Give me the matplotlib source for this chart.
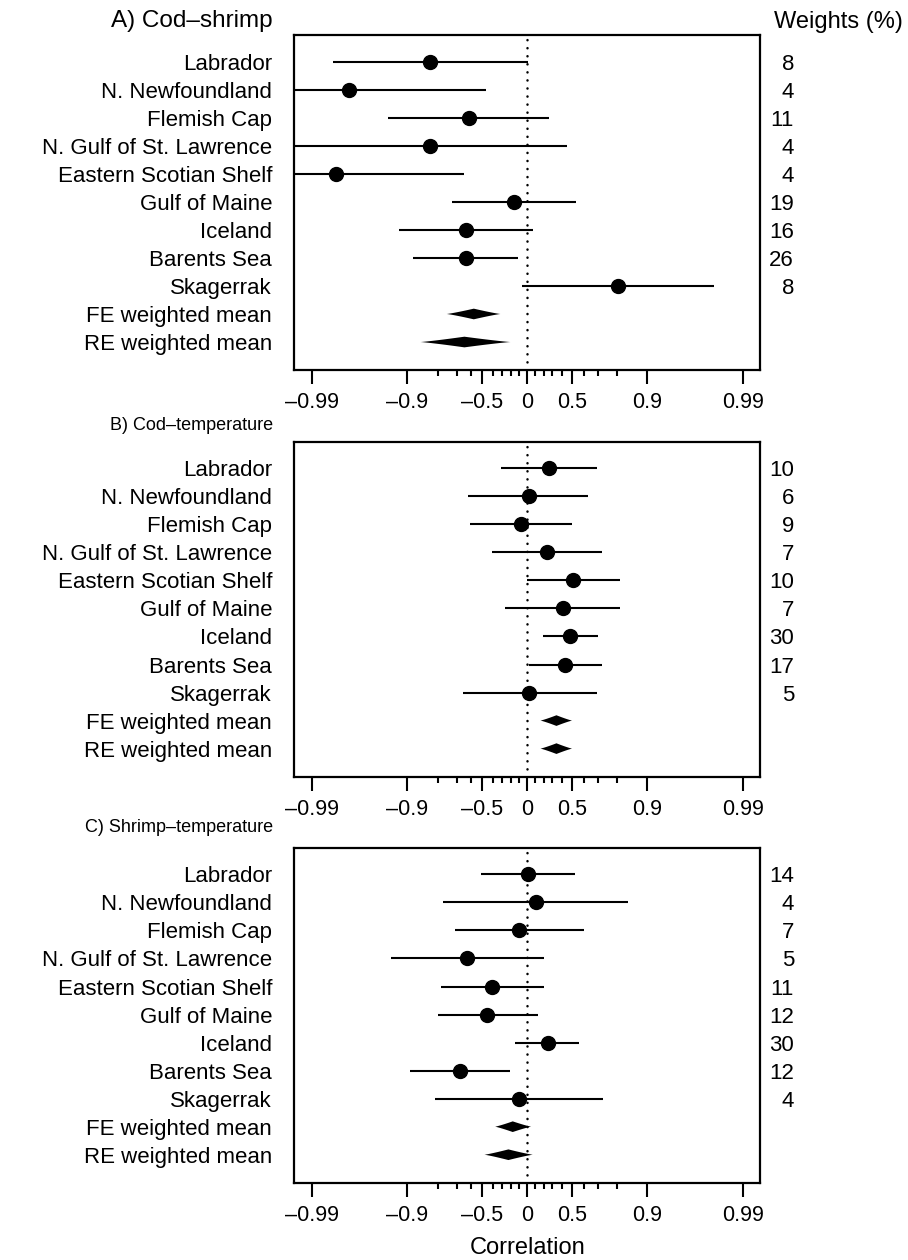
import matplotlib
matplotlib.use('Agg')
import matplotlib.pyplot as plt
import numpy as np

plt.rcParams['font.family'] = ['Liberation Sans', 'DejaVu Sans']
plt.rcParams['lines.scale_dashes'] = False

# study areas, top to bottom
regions = ['Labrador', 'N. Newfoundland', 'Flemish Cap', 'N. Gulf of St. Lawrence',
           'Eastern Scotian Shelf', 'Gulf of Maine', 'Iceland', 'Barents Sea', 'Skagerrak']
pooled = ['FE weighted mean', 'RE weighted mean']

# A) cod-shrimp correlations with 95% CI
cs_r = [-0.831, -0.975, -0.615, -0.831, -0.982, -0.163, -0.635, -0.639, 0.805]
cs_lo = [-0.983, -0.996, -0.936, -0.996, -0.996, -0.726, -0.917, -0.886, -0.061]
cs_hi = [0.016, -0.465, 0.267, 0.451, -0.647, 0.538, 0.069, -0.106, 0.980]
cs_w = [8, 4, 11, 4, 4, 19, 16, 26, 8]
cs_fe = [-0.756, -0.575, -0.317]   # lo, mean, hi
cs_re = [-0.864, -0.647, -0.202]

# B) cod-temperature
ct_r = [0.259, 0.02, -0.074, 0.24, 0.508, 0.415, 0.484, 0.438, 0.02]
ct_lo = [-0.309, -0.617, -0.607, -0.409, -0.005, -0.26, 0.19, 0.02, -0.658]
ct_hi = [0.693, 0.631, 0.499, 0.726, 0.816, 0.816, 0.70, 0.726, 0.693]
ct_w = [10, 6, 9, 7, 10, 7, 30, 17, 5]
ct_fe = [0.162, 0.345, 0.502]
ct_re = [0.162, 0.345, 0.502]

# C) shrimp-temperature
st_r = [0.008, 0.11, -0.094, -0.627, -0.405, -0.455, 0.248, -0.676, -0.094]
st_lo = [-0.511, -0.776, -0.709, -0.932, -0.787, -0.80, -0.143, -0.893, -0.81]
st_hi = [0.532, 0.844, 0.606, 0.209, 0.209, 0.13, 0.566, -0.206, 0.734]
st_w = [14, 4, 7, 5, 11, 12, 30, 12, 4]
st_fe = [-0.374, -0.175, 0.049]
st_re = [-0.481, -0.226, 0.069]

titles = ['A) Cod\u2013shrimp', 'B) Cod\u2013temperature', 'C) Shrimp\u2013temperature']
major_r = [-0.99, -0.9, -0.5, 0, 0.5, 0.9, 0.99]
major_lab = ['\u20130.99', '\u20130.9', '\u20130.5', '0', '0.5', '0.9', '0.99']
minor_r = [-0.8, -0.7, -0.6, -0.4, -0.3, -0.2, -0.1, 0.1, 0.2, 0.3, 0.4, 0.6, 0.7, 0.8]

panels = [
    (cs_r, cs_lo, cs_hi, cs_w, cs_fe, cs_re),
    (ct_r, ct_lo, ct_hi, ct_w, ct_fe, ct_re),
    (st_r, st_lo, st_hi, st_w, st_fe, st_re),
]


def fwd(r):
    return np.arctanh(np.clip(r, -0.99999, 0.99999))


def diamond(ax, yrow, lo, mid, hi, h=0.19):
    t = np.linspace(-1, 1, 81)
    zlo, zmid, zhi = np.arctanh([lo, mid, hi])
    zx = np.where(t < 0, zmid + t * (zmid - zlo), zmid + t * (zhi - zmid))
    prof = h * (1 - np.abs(t)) ** 1.15
    xs = np.tanh(np.concatenate([zx, zx[::-1]]))
    ys = np.concatenate([yrow + prof, (yrow - prof)[::-1]])
    ax.fill(xs, ys, color='k', lw=0)


fig = plt.figure(figsize=(9.08, 12.6), dpi=100)
bottoms = [0.7063, 0.3836, 0.0613]
title_y = [21, 425, 828]
title_size = [17.5, 13, 13]

for k, (r, lo, hi, w, fe, re_) in enumerate(panels):
    ax = fig.add_axes([0.3241, bottoms[k], 0.5129, 0.2659])
    ax.set_xscale('function', functions=(fwd, np.tanh))
    ax.set_xlim(-0.99345, 0.99345)
    ax.set_ylim(0.0, 11.95)

    y = np.arange(11, 0, -1)
    ax.axvline(0, color='k', lw=1.8, ls=(0, (0.1, 5.7)), dash_capstyle='round', zorder=1)
    ax.hlines(y[:9], lo, hi, color='k', lw=1.5, zorder=2)
    ax.plot(r, y[:9], 'o', ms=10, color='k', zorder=3)
    diamond(ax, y[9], *fe)
    diamond(ax, y[10], *re_)

    ax.set_yticks(y)
    ax.set_yticklabels(regions + pooled)
    ax.set_xticks(major_r)
    ax.set_xticklabels(major_lab)
    ax.set_xticks(minor_r, minor=True)
    ax.tick_params(axis='y', length=0, pad=16, labelsize=16)
    ax.tick_params(axis='x', which='major', length=10, width=1.5, labelsize=15.5, pad=6)
    ax.tick_params(axis='x', which='minor', length=4.5, width=1.5)
    for s in ax.spines.values():
        s.set_linewidth(1.6)

    for i, wt in enumerate(w):
        ax.text(1.073, y[i], str(wt), transform=ax.get_yaxis_transform(),
                ha='right', va='center_baseline', fontsize=16)

    fig.text(273 / 908, 1 - title_y[k] / 1260, titles[k], ha='right', va='center',
             fontsize=title_size[k])

    if k == 2:
        ax.set_xlabel('Correlation', fontsize=17, labelpad=8)

fig.text(903 / 908, 1 - 21.7 / 1260, 'Weights (%)', ha='right', va='center', fontsize=17)

fig.savefig('out.png', dpi=100)
